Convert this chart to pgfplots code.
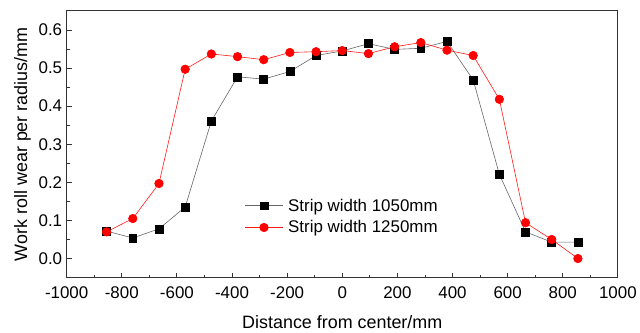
\documentclass[border=0pt]{standalone}
\usepackage{pgfplots}
\pgfplotsset{compat=1.18}
\usepackage{fontspec}
\setmainfont{Liberation Sans}
\begin{document}
\begin{tikzpicture}
\begin{axis}[
  name=ax,
  scale only axis,
  width=554pt, height=268pt,
  xmin=-1000, xmax=1000, ymin=-0.05, ymax=0.65,
  xtick distance=200, ytick distance=0.1,
  minor x tick num=1, minor y tick num=1,
  tick pos=left, tick align=inside,
  major tick length=5pt, minor tick length=3pt,
  axis line style={line width=1.1pt, draw=black!80},
  every tick/.style={line width=0.9pt, black!80},
  font=\fontsize{17}{19}\selectfont,
  ticklabel style={font=\fontsize{17}{19}\selectfont},
  /pgf/number format/assume math mode=true,
  /pgf/number format/1000 sep={},
  yticklabel style={/pgf/number format/fixed, /pgf/number format/fixed zerofill, /pgf/number format/precision=1, xshift=-1pt},
  xticklabel style={yshift=-6pt},
  scaled y ticks=false,
  xlabel={Distance from center/mm},
  ylabel={Work roll wear per radius/mm},
  xlabel style={font=\fontsize{18}{20}\selectfont, yshift=-10pt},
  ylabel style={font=\fontsize{18}{20}\selectfont, yshift=1pt},
  legend style={draw=none, fill=none, at={(0.321,0.307)}, anchor=north west, font=\fontsize{17}{19}\selectfont, row sep=4pt, inner sep=1pt,
    /tikz/every even column/.style={column sep=0pt}},
  legend cell align=left,
  legend image code/.code={\draw[mark repeat=2,mark phase=2] plot coordinates {(0pt,0pt)(19pt,0pt)(38pt,0pt)};},
  every axis legend/.append style={nodes={inner xsep=5pt}},
]
\addplot[black!60, line width=0.6pt, mark=square*, mark size=4pt, mark options={fill=black, draw=black}] coordinates {
(-855,0.072) (-760,0.054) (-665,0.078) (-570,0.135) (-475,0.361) (-380,0.477) (-285,0.471) (-190,0.491) (-95,0.533) (0,0.545) (95,0.564) (190,0.549) (285,0.552) (380,0.570) (475,0.469) (570,0.221) (665,0.070) (760,0.043) (855,0.043)
};
\addlegendentry{Strip width 1050mm}
\addplot[red!90!white, line width=0.6pt, mark=*, mark size=4.3pt, mark options={fill=red, draw=red}] coordinates {
(-855,0.070) (-760,0.105) (-665,0.197) (-570,0.497) (-475,0.537) (-380,0.530) (-285,0.522) (-190,0.541) (-95,0.543) (0,0.546) (95,0.538) (190,0.556) (285,0.567) (380,0.547) (475,0.533) (570,0.418) (665,0.094) (760,0.050) (855,0.000)
};
\addlegendentry{Strip width 1250mm}
\end{axis}
\path ([shift={(-67pt,-52pt)}]ax.south west) rectangle ([shift={(19pt,11pt)}]ax.north east);
\end{tikzpicture}
\end{document}
